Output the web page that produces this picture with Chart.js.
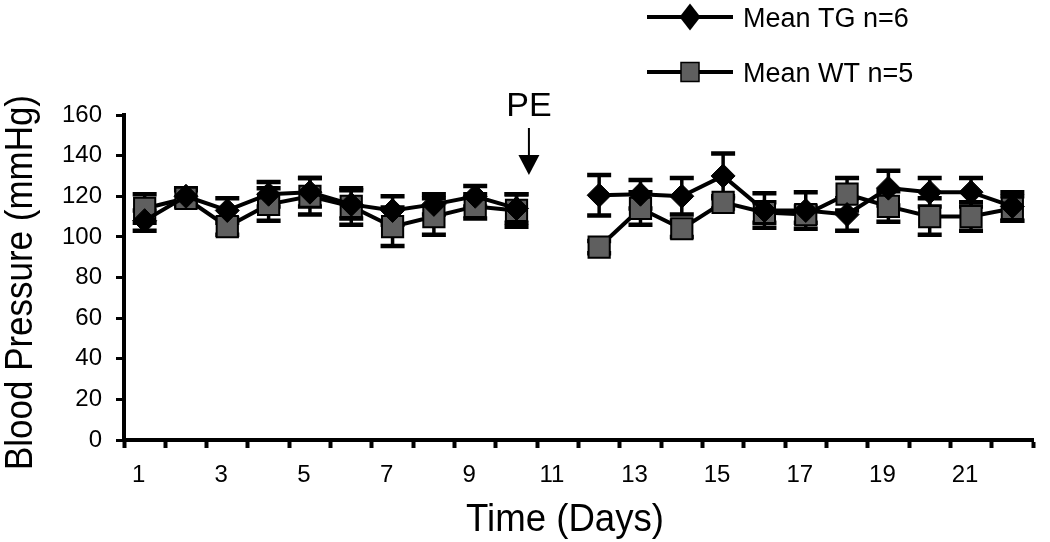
<!DOCTYPE html>
<html><head><meta charset="utf-8">
<script src="https://cdn.jsdelivr.net/npm/chart.js@4.4.0/dist/chart.umd.min.js"></script>
<style>html,body{margin:0;padding:0;background:#fff}#wrap{width:1050px;height:542px}</style>
</head><body><div id="wrap"><canvas id="c" width="1050" height="542"></canvas></div>
<script>
// ---- data ----
const dayLabels = ['1','2','3','4','5','6','7','8','9','10','11','12','13','14','15','16','17','18','19','20','21','22'];
const tgMean = [108,120,113,121,122,116,113,116,120,114,null,120.5,121,120,130,113,113,111,124,122,122,115];
const tgErr  = [5,4,6,6,7,7,7,5,5,7,null,10,7,9,11,8.5,9,8,8.5,7,7,7];
const wtMean = [114,119,105,116,120,115,105,110,115,113,null,95,114,104,117,112,111,121,115,110,110,114];
const wtErr  = [7,4,4,8,9,9,9.5,9,6,8,null,3,8,4,3,5,4,8,7.5,9,7,6];
const yTicks = [0,20,40,60,80,100,120,140,160];
const seriesNames = ['Mean TG n=6','Mean WT n=5'];
const xTitle = 'Time (Days)';
const yTitle = 'Blood Pressure (mmHg)';
const peLabel = 'PE';
const peIndex = 9.3; // arrow position on category axis (between day 10 and 11)

const FONT = "'Liberation Sans', Arial, Helvetica, sans-serif";
const WT_FILL = '#5f5f5f';

const errorBars = {
  id: 'errorBars',
  beforeDatasetsDraw(chart) {
    const ctx = chart.ctx, y = chart.scales.y;
    chart.data.datasets.forEach((ds, i) => {
      const meta = chart.getDatasetMeta(i);
      ds.data.forEach((v, j) => {
        const e = ds.errors[j];
        if (v === null || e === null) return;
        const x = meta.data[j].x;
        const yt = y.getPixelForValue(v + e), yb = y.getPixelForValue(v - e);
        ctx.save();
        ctx.strokeStyle = '#000';
        ctx.lineWidth = 3.5;
        ctx.beginPath(); ctx.moveTo(x, yt); ctx.lineTo(x, yb); ctx.stroke();
        ctx.lineWidth = 4.5;
        ctx.beginPath();
        ctx.moveTo(x - 12, yt); ctx.lineTo(x + 12, yt);
        ctx.moveTo(x - 12, yb); ctx.lineTo(x + 12, yb);
        ctx.stroke();
        ctx.restore();
      });
    });
  }
};

const extras = {
  id: 'extras',
  afterDraw(chart) {
    const ctx = chart.ctx, xs = chart.scales.x, ys = chart.scales.y;
    ctx.save();
    ctx.fillStyle = '#000'; ctx.strokeStyle = '#000';
    // y title
    ctx.save();
    ctx.translate(22, (ys.top + ys.bottom) / 2 + 5);
    ctx.rotate(-Math.PI / 2);
    ctx.font = '38px ' + FONT;
    ctx.textAlign = 'center'; ctx.textBaseline = 'middle';
    ctx.fillText(yTitle, 0, 0, 375);
    ctx.restore();
    // x title
    ctx.font = '38px ' + FONT;
    ctx.textAlign = 'center'; ctx.textBaseline = 'alphabetic';
    ctx.fillText(xTitle, 565, 531, 198);
    // PE annotation
    const ax = xs.getPixelForValue(peIndex);
    ctx.font = '34px ' + FONT;
    ctx.textAlign = 'center'; ctx.textBaseline = 'alphabetic';
    ctx.fillText(peLabel, ax, 116);
    ctx.lineWidth = 2;
    ctx.beginPath(); ctx.moveTo(ax, 128); ctx.lineTo(ax, 158); ctx.stroke();
    ctx.beginPath(); ctx.moveTo(ax - 10.5, 155); ctx.lineTo(ax + 10.5, 155); ctx.lineTo(ax, 175); ctx.closePath(); ctx.fill();
    // legend
    const rows = [17, 72];
    rows.forEach((ly, i) => {
      ctx.lineWidth = 4;
      ctx.beginPath(); ctx.moveTo(647, ly); ctx.lineTo(733, ly); ctx.stroke();
      if (i === 0) {
        ctx.beginPath(); ctx.moveTo(690, ly - 13.5); ctx.lineTo(700.5, ly); ctx.lineTo(690, ly + 13.5); ctx.lineTo(679.5, ly); ctx.closePath(); ctx.fill();
      } else {
        ctx.fillStyle = WT_FILL; ctx.fillRect(681, ly - 9.5, 18, 19);
        ctx.lineWidth = 1.5; ctx.strokeRect(681, ly - 9.5, 18, 19);
        ctx.fillStyle = '#000';
      }
      ctx.font = '27px ' + FONT;
      ctx.textAlign = 'left'; ctx.textBaseline = 'middle';
      ctx.fillText(seriesNames[i], 743, ly + 3);
    });
    ctx.restore();
  }
};

new Chart(document.getElementById('c'), {
  type: 'line',
  data: {
    labels: dayLabels,
    datasets: [
      { label: seriesNames[0], data: tgMean, errors: tgErr, borderColor: '#000', borderWidth: 4, tension: 0,
        pointStyle: 'rectRot', pointRadius: 12, pointBackgroundColor: '#000', pointBorderColor: '#000', pointBorderWidth: 1, spanGaps: false },
      { label: seriesNames[1], data: wtMean, errors: wtErr, borderColor: '#000', borderWidth: 4, tension: 0,
        pointStyle: 'rect', pointRadius: 15, pointBackgroundColor: WT_FILL, pointBorderColor: '#000', pointBorderWidth: 2, spanGaps: false }
    ]
  },
  options: {
    responsive: false, animation: false, devicePixelRatio: 1,
    layout: { padding: { left: 0, right: 12, top: 115, bottom: 0 } },
    plugins: { legend: { display: false }, tooltip: { enabled: false } },
    scales: {
      x: {
        type: 'category', offset: true,
        grid: { offset: true, drawOnChartArea: false, drawTicks: true, tickLength: 8, tickWidth: 4, tickColor: '#000' },
        border: { display: true, color: '#000', width: 4 },
        ticks: { autoSkip: false, maxRotation: 0, color: '#000', font: { family: FONT, size: 24 }, padding: 13, labelOffset: -6,
          callback: (v, i) => (i % 2 === 0 ? dayLabels[i] : '') },
        afterFit: s => { s.height = 102; }
      },
      y: {
        min: 0, max: 160,
        afterBuildTicks: s => { s.ticks = yTicks.map(v => ({ value: v })); },
        ticks: { color: '#000', font: { family: FONT, size: 24 }, padding: 14 },
        grid: { drawOnChartArea: false, drawTicks: true, tickLength: 8, tickWidth: 3, tickColor: '#000' },
        border: { display: true, color: '#000', width: 4 },
        afterFit: s => { s.width = 124; }
      }
    }
  },
  plugins: [errorBars, extras]
});
</script>
</body></html>
